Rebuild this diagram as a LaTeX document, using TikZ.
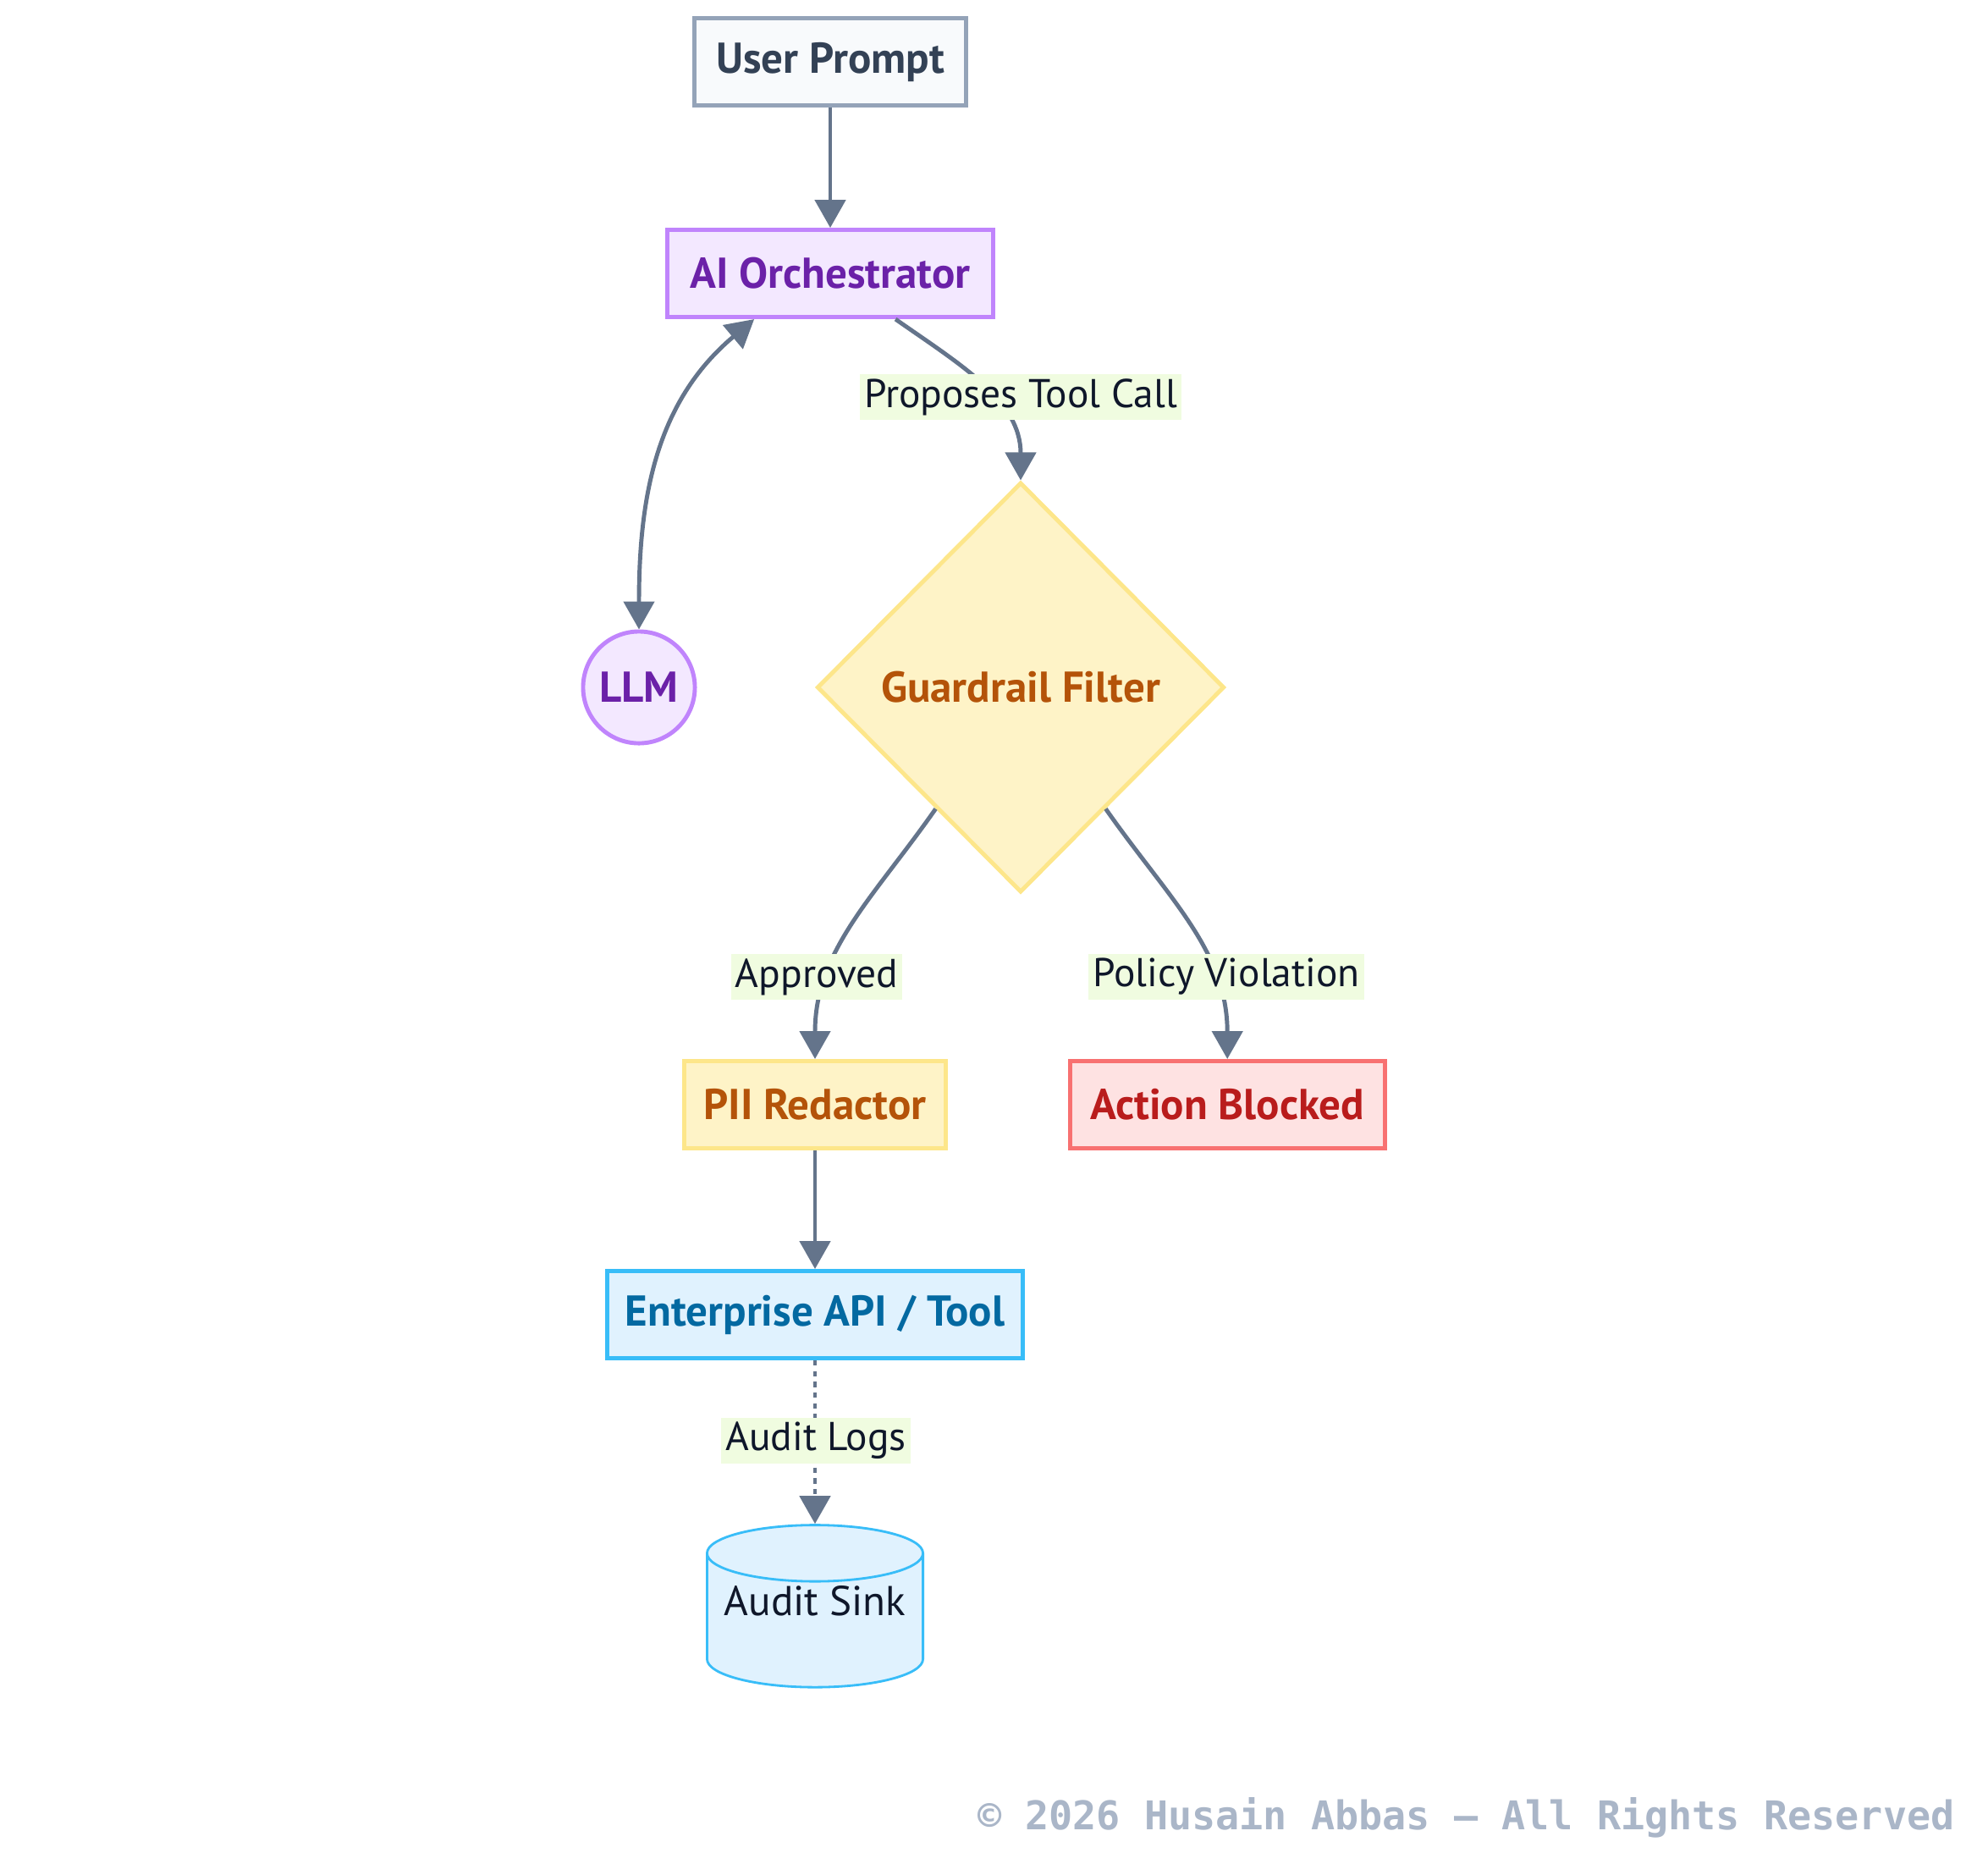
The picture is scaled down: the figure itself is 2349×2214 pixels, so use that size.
\documentclass[tikz,border=0pt]{standalone}
\usepackage{fontspec}
\setmainfont{PT Sans}
\newfontfamily\monofoot{DejaVu Sans Mono}
\usetikzlibrary{positioning, arrows.meta, shapes.geometric}
\definecolor{GRDedge}{HTML}{64748B}
\definecolor{GRDslate}{HTML}{94A3B8}
\definecolor{GRDslateFill}{HTML}{F8FAFC}
\definecolor{GRDslateText}{HTML}{334155}
\definecolor{GRDpurple}{HTML}{C084FC}
\definecolor{GRDpurpleFill}{HTML}{F3E8FF}
\definecolor{GRDpurpleText}{HTML}{6B21A8}
\definecolor{GRDamber}{HTML}{FDE68A}
\definecolor{GRDamberFill}{HTML}{FEF3C7}
\definecolor{GRDamberText}{HTML}{B45309}
\definecolor{GRDred}{HTML}{F87171}
\definecolor{GRDredFill}{HTML}{FEE2E2}
\definecolor{GRDredText}{HTML}{B91C1C}
\definecolor{GRDblue}{HTML}{38BDF8}
\definecolor{GRDblueFill}{HTML}{E0F2FE}
\definecolor{GRDblueText}{HTML}{0369A1}
\definecolor{GRDlabel}{HTML}{F0FCE0}
\definecolor{GRDink}{HTML}{0F172A}
\definecolor{GRDfoot}{HTML}{AAB6C8}
\tikzset{
  box/.style={rectangle, draw, line width=1.4pt, minimum height=10.3mm, align=center,
    inner sep=2pt, font=\fontsize{14.5}{17}\selectfont\bfseries},
  userbox/.style={box, draw=GRDslate, fill=GRDslateFill, text=GRDslateText},
  orch/.style={box, draw=GRDpurple, fill=GRDpurpleFill, text=GRDpurpleText},
  llmnode/.style={orch, circle, minimum size=13.2mm, inner sep=0pt},
  amberbox/.style={box, draw=GRDamber, fill=GRDamberFill, text=GRDamberText},
  guard/.style={amberbox, diamond, minimum width=48.1mm, minimum height=48.4mm, inner sep=0pt},
  blocked/.style={box, draw=GRDred, fill=GRDredFill, text=GRDredText},
  apibox/.style={box, draw=GRDblue, fill=GRDblueFill, text=GRDblueText},
  sink/.style={cylinder, shape border rotate=90, aspect=0.3, draw=GRDblue, line width=0.8pt,
    cylinder uses custom fill, cylinder body fill=GRDblueFill, cylinder end fill=GRDblueFill,
    minimum width=25.5mm, minimum height=15.5mm, inner sep=1pt, text=GRDink,
    font=\fontsize{14}{17}\selectfont},
  flow/.style={->, line width=1.4pt, GRDedge},
  both/.style={<->, line width=1.4pt, GRDedge},
  audit/.style={flow, dash pattern=on 1.8pt off 1.8pt},
  lbl/.style={fill=GRDlabel, text=GRDink, inner sep=1.5pt, minimum height=5.4mm,
    font=\fontsize{13.5}{17}\selectfont},
  foot/.style={text=GRDfoot, font=\monofoot\fontsize{13.3}{16}\selectfont\bfseries},
}
\begin{document}
\begin{tikzpicture}[x=0.01cm, y=-0.01cm, >={Triangle[length=3.3mm, width=3.6mm]}]
  \useasboundingbox (0,0) rectangle (2349,2214);
  \node[userbox, minimum width=32.1mm] (up) at (981,73) {User Prompt};
  \node[orch, minimum width=38.5mm, below=14.2mm of up] (ai) {AI Orchestrator};
  \node[llmnode] (llm) at (755,812) {LLM};
  \node[guard] (gf) at (1206,812) {Guardrail Filter};
  \node[amberbox, minimum width=30.8mm] (pii) at (963,1305) {PII Redactor};
  \node[blocked, minimum width=37.2mm, right=14.2mm of pii] (ab) {Action Blocked};
  \node[apibox, minimum width=49mm, below=14mm of pii] (api) {Enterprise API / Tool};
  \node[sink, below=19.3mm of api] (sink) {\raisebox{5.6mm}{Audit Sink}};
  \draw[flow] (up) -- (ai);
  \draw[both] (ai.-149) to[out=-140, in=90] (llm.north);
  \draw[flow] (ai.-35) to[out=-35, in=90] (gf.north);
  \draw[flow] (gf.-125) to[out=-125, in=90] (pii.north);
  \draw[flow] (gf.-55) to[out=-55, in=90] (ab.north);
  \draw[flow] (pii) -- (api);
  \draw[audit] (api) -- (sink);
  \node[lbl] (lProp) at (1206,469) {Proposes Tool Call};
  \node[lbl] (lAppr) at (965,1154) {Approved};
  \node[lbl] (lPol) at (1449,1154) {Policy Violation};
  \node[lbl] (lAud) at (964,1702) {Audit Logs};
  \node[foot, anchor=east] (copy) at (2322,2147) {© 2026 Husain Abbas — All Rights Reserved};
\end{tikzpicture}
\end{document}
